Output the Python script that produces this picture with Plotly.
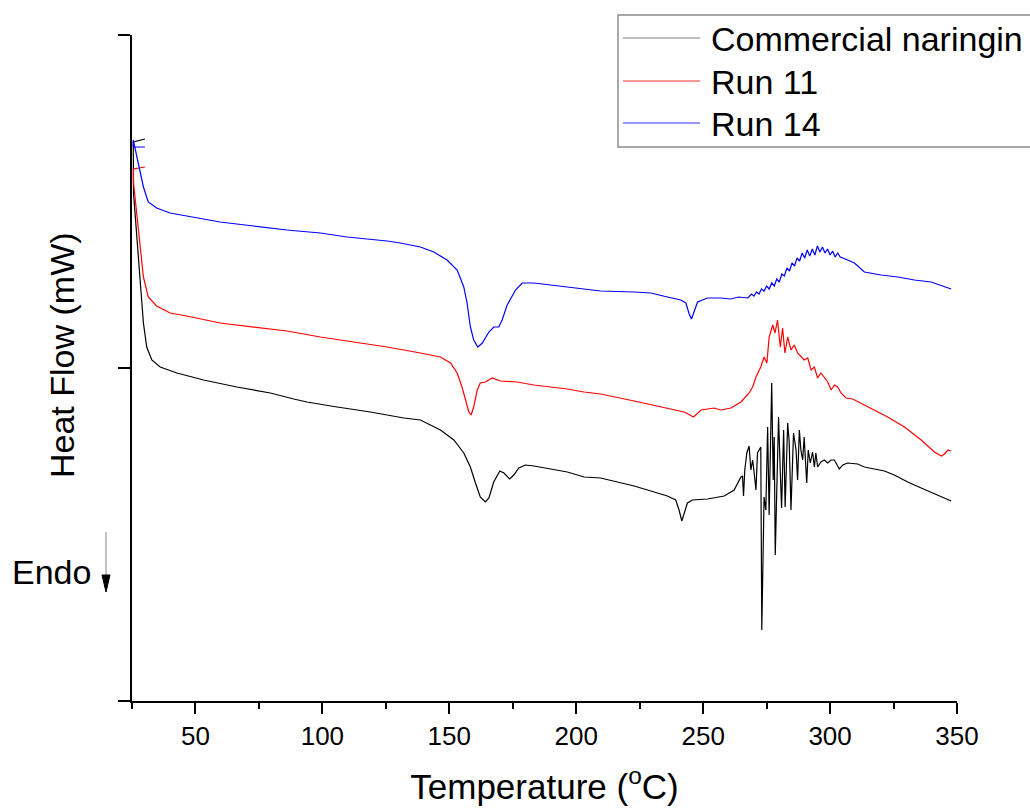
import plotly.graph_objects as go

# ---------------- data ----------------
series_names = ["Commercial naringin", "Run 11", "Run 14"]
series_colors = ["#000000", "#ff0000", "#0000ff"]

temp_commercial = [30.1, 25.5, 25.6, 26.8, 28.2, 29.5, 30.8, 32.8, 36.1, 42.7,
                   53.2, 66.3, 79.5, 88.7, 93.9, 105.8, 118.9, 132.1, 138.6, 146.5,
                   151.8, 155.7, 158.3, 160.3, 162.2, 164.2, 165.6, 167.5, 169.9, 171.5,
                   173.8, 175.4, 177.4, 180.0, 183.3, 189.9, 196.5, 203.1, 209.6, 216.2,
                   222.8, 229.4, 235.9, 239.2, 240.5, 241.6, 242.5, 243.8, 245.8, 251.7,
                   258.3, 262.2, 264.9, 265.5, 265.9, 266.4, 267.2, 268.1, 268.8, 269.5,
                   270.1, 270.8, 271.4, 272.1, 272.7, 273.1, 273.7, 274.0, 274.7, 275.4,
                   276.0, 276.4, 277.0, 277.6, 278.0, 278.4, 279.1, 279.7, 280.4, 280.9,
                   281.7, 282.3, 283.3, 283.9, 284.6, 285.2, 285.6, 286.6, 287.2, 287.9,
                   288.5, 289.2, 289.8, 290.8, 291.4, 292.2, 293.1, 293.8, 294.4, 295.1,
                   296.4, 297.7, 299.1, 300.4, 301.7, 303.0, 303.6, 305.0, 306.9, 310.9,
                   313.5, 317.4, 321.4, 325.3, 330.6, 335.9, 341.1, 347.7]
hf_commercial = [5.62, 5.59, 5.08, 4.71, 4.21, 3.78, 3.54, 3.41, 3.34, 3.28,
                 3.21, 3.14, 3.08, 3.02, 2.99, 2.94, 2.89, 2.83, 2.81, 2.71,
                 2.61, 2.48, 2.34, 2.18, 2.04, 1.99, 2.03, 2.19, 2.30, 2.28,
                 2.22, 2.26, 2.33, 2.36, 2.35, 2.32, 2.29, 2.24, 2.23, 2.19,
                 2.15, 2.10, 2.05, 2.01, 1.91, 1.80, 1.88, 1.98, 2.01, 2.02,
                 2.05, 2.11, 2.24, 2.25, 2.05, 2.31, 2.48, 2.55, 2.31, 2.41,
                 2.28, 2.11, 2.48, 2.51, 2.54, 0.71, 1.98, 2.04, 1.91, 2.74,
                 1.86, 2.48, 3.18, 2.21, 2.64, 1.46, 2.38, 2.84, 2.28, 1.93,
                 2.71, 1.94, 2.78, 2.59, 1.91, 2.31, 2.68, 2.51, 2.21, 2.71,
                 2.51, 2.41, 2.64, 2.18, 2.51, 2.38, 2.49, 2.34, 2.48, 2.34,
                 2.39, 2.41, 2.38, 2.41, 2.41, 2.35, 2.32, 2.36, 2.38, 2.37,
                 2.34, 2.32, 2.30, 2.26, 2.19, 2.13, 2.07, 2.00]

temp_run11 = [30.1, 25.5, 25.6, 26.8, 28.2, 29.5, 31.4, 34.7, 40.0, 46.6,
              59.7, 72.9, 86.0, 99.2, 112.4, 125.5, 138.6, 146.5, 150.5, 153.1,
              155.0, 156.4, 157.7, 158.6, 159.6, 161.0, 162.2, 164.2, 166.9, 170.1,
              176.7, 183.3, 189.9, 196.5, 203.1, 209.6, 222.8, 235.9, 242.5, 246.2,
              247.8, 249.2, 254.3, 257.0, 260.9, 264.9, 268.1, 269.5, 270.8, 272.7,
              274.0, 275.1, 276.0, 277.4, 278.3, 279.3, 280.4, 281.3, 282.2, 283.3,
              284.6, 285.9, 287.2, 288.5, 289.8, 291.2, 292.5, 293.8, 295.1, 296.4,
              297.7, 299.1, 300.4, 301.7, 303.0, 304.3, 306.3, 308.9, 313.5, 318.8,
              322.7, 329.3, 335.9, 341.1, 343.8, 345.1, 346.4, 347.7]
hf_run11 = [5.34, 5.32, 5.18, 4.88, 4.54, 4.24, 4.04, 3.95, 3.88, 3.85,
            3.78, 3.74, 3.70, 3.64, 3.59, 3.54, 3.48, 3.44, 3.38, 3.28,
            3.14, 3.01, 2.89, 2.86, 2.94, 3.11, 3.18, 3.19, 3.23, 3.20,
            3.19, 3.16, 3.14, 3.12, 3.09, 3.07, 3.00, 2.93, 2.89, 2.84,
            2.88, 2.91, 2.93, 2.91, 2.93, 2.99, 3.08, 3.14, 3.24, 3.34,
            3.44, 3.38, 3.64, 3.76, 3.68, 3.81, 3.54, 3.73, 3.48, 3.64,
            3.51, 3.56, 3.48, 3.44, 3.41, 3.43, 3.31, 3.34, 3.23, 3.28,
            3.24, 3.19, 3.11, 3.16, 3.14, 3.08, 3.03, 3.02, 2.96, 2.89,
            2.84, 2.74, 2.61, 2.49, 2.45, 2.47, 2.51, 2.50]

temp_run14 = [30.1, 25.5, 25.5, 27.5, 29.5, 31.4, 34.7, 40.0, 46.6, 59.7, 72.9,
              86.0, 99.2, 109.7, 125.5, 130.7, 138.6, 143.9, 149.1, 153.1, 155.7,
              157.0, 158.3, 159.6, 161.2, 163.0, 165.6, 167.5, 169.5, 170.8, 172.8,
              176.1, 178.7, 183.3, 189.9, 196.5, 209.6, 222.8, 229.4, 235.9, 241.2,
              243.2, 244.5, 245.4, 246.4, 247.8, 251.7, 257.0, 260.9, 264.0, 267.5,
              268, 269, 270, 271, 272, 273, 274, 275, 276, 277,
              278, 279, 280, 281, 282, 283, 284, 285, 286, 287,
              288, 289, 290, 291, 292, 293, 294, 295, 296, 297,
              298, 299, 300, 301, 302, 303, 304, 306.0, 309.6, 313.5,
              320.1, 326.7, 333.2, 339.8, 347.7]
hf_run14 = [5.54, 5.54, 5.61, 5.38, 5.14, 4.99, 4.93, 4.88, 4.85, 4.79, 4.75,
            4.71, 4.68, 4.64, 4.60, 4.58, 4.54, 4.49, 4.41, 4.31, 4.14,
            3.98, 3.74, 3.61, 3.54, 3.58, 3.69, 3.74, 3.74, 3.81, 3.96,
            4.11, 4.18, 4.18, 4.16, 4.14, 4.10, 4.09, 4.08, 4.04, 4.01,
            3.98, 3.87, 3.82, 3.90, 3.99, 4.03, 4.03, 4.02, 4.04, 4.03,
            4.04, 4.07, 4.05, 4.09, 4.07, 4.12, 4.10, 4.15, 4.12, 4.18,
            4.15, 4.22, 4.19, 4.27, 4.25, 4.33, 4.30, 4.38, 4.35, 4.43,
            4.40, 4.48, 4.43, 4.51, 4.45, 4.52, 4.46, 4.55, 4.49, 4.54,
            4.48, 4.52, 4.46, 4.50, 4.44, 4.48, 4.44, 4.42, 4.38, 4.29,
            4.26, 4.24, 4.21, 4.19, 4.12]

x_ticks = [50, 100, 150, 200, 250, 300, 350]
y_ticks = [0, 3.33, 6.66]

series_temps = [temp_commercial, temp_run11, temp_run14]
series_hf = [hf_commercial, hf_run11, hf_run14]
for t, h in zip(series_temps, series_hf):
    assert len(t) == len(h), (len(t), len(h))

# ---------------- figure ----------------
W, H = 1030, 808
ML, MR, MT, MB = 132, 73, 35, 107
PW, PH = W - ML - MR, H - MT - MB
FONT = "Liberation Sans, Arial, sans-serif"


def px_x(p):
    return (p - ML) / PW


def px_y(p):
    return (H - MB - p) / PH


fig = go.Figure()
for name, col, t, h in zip(series_names, series_colors, series_temps, series_hf):
    fig.add_trace(go.Scatter(x=t, y=h, mode="lines", name=name,
                             line=dict(color=col, width=1.2), showlegend=False))

# Origin-style legend box
shapes = [dict(type="rect", xref="paper", yref="paper",
               x0=px_x(618), x1=px_x(1045), y0=px_y(147), y1=px_y(15),
               line=dict(color="#8c8c8c", width=1.5), fillcolor="white", layer="above")]
annotations = []
legend_rows = [38, 81, 123]
sample_cols = ["#7f7f7f", "#ff3030", "#3030ff"]
for name, sc, ry in zip(series_names, sample_cols, legend_rows):
    shapes.append(dict(type="line", xref="paper", yref="paper",
                       x0=px_x(623), x1=px_x(700), y0=px_y(ry), y1=px_y(ry),
                       line=dict(color=sc, width=1.2), layer="above"))
    annotations.append(dict(text=name, xref="paper", yref="paper",
                            x=px_x(709), y=px_y(ry + 1), xanchor="left", yanchor="middle",
                            showarrow=False, font=dict(family=FONT, size=34, color="black")))

# Endo label with arrow
annotations.append(dict(text="Endo", xref="paper", yref="paper",
                        x=px_x(10), y=px_y(572), xanchor="left", yanchor="middle",
                        showarrow=False, font=dict(family=FONT, size=34, color="black")))
shapes.append(dict(type="line", xref="paper", yref="paper",
                   x0=px_x(106), x1=px_x(106), y0=px_y(532), y1=px_y(578),
                   line=dict(color="#9a9a9a", width=1.2)))
shapes.append(dict(type="path", xref="paper", yref="paper",
                   path="M {a},{b} L {c},{b} L {d},{e} Z".format(
                       a=px_x(102), c=px_x(110), b=px_y(575), d=px_x(106), e=px_y(592)),
                   line=dict(color="black", width=1), fillcolor="black"))

# y-axis title (placed like the reference)
annotations.append(dict(text="Heat Flow (mW)", xref="paper", yref="paper",
                        x=px_x(62), y=px_y(355), xanchor="center", yanchor="middle",
                        textangle=-90, showarrow=False,
                        font=dict(family=FONT, size=34, color="black")))

fig.update_layout(
    width=W, height=H,
    margin=dict(l=ML, r=MR, t=MT, b=MB, autoexpand=False),
    paper_bgcolor="white", plot_bgcolor="white",
    font=dict(family=FONT, color="black"),
    shapes=shapes, annotations=annotations,
    xaxis=dict(range=[25, 350], tickvals=x_ticks, ticks="outside", ticklen=11, tickwidth=2,
               tickcolor="black", showline=True, linecolor="black", linewidth=2,
               showgrid=False, zeroline=False,
               tickfont=dict(family=FONT, size=26, color="black"),
               minor=dict(dtick=25, tick0=0, ticks="outside", ticklen=6, tickwidth=2,
                          tickcolor="black", showgrid=False),
               title=dict(text="Temperature (<sup>o</sup>C)", standoff=24,
                          font=dict(family=FONT, size=35, color="black"))),
    yaxis=dict(range=[0, 6.66], tickvals=y_ticks, ticks="outside", ticklen=12, tickwidth=2,
               tickcolor="black", showline=True, linecolor="black", linewidth=2,
               showgrid=False, zeroline=False, showticklabels=False),
)

fig.write_html("out.html")
